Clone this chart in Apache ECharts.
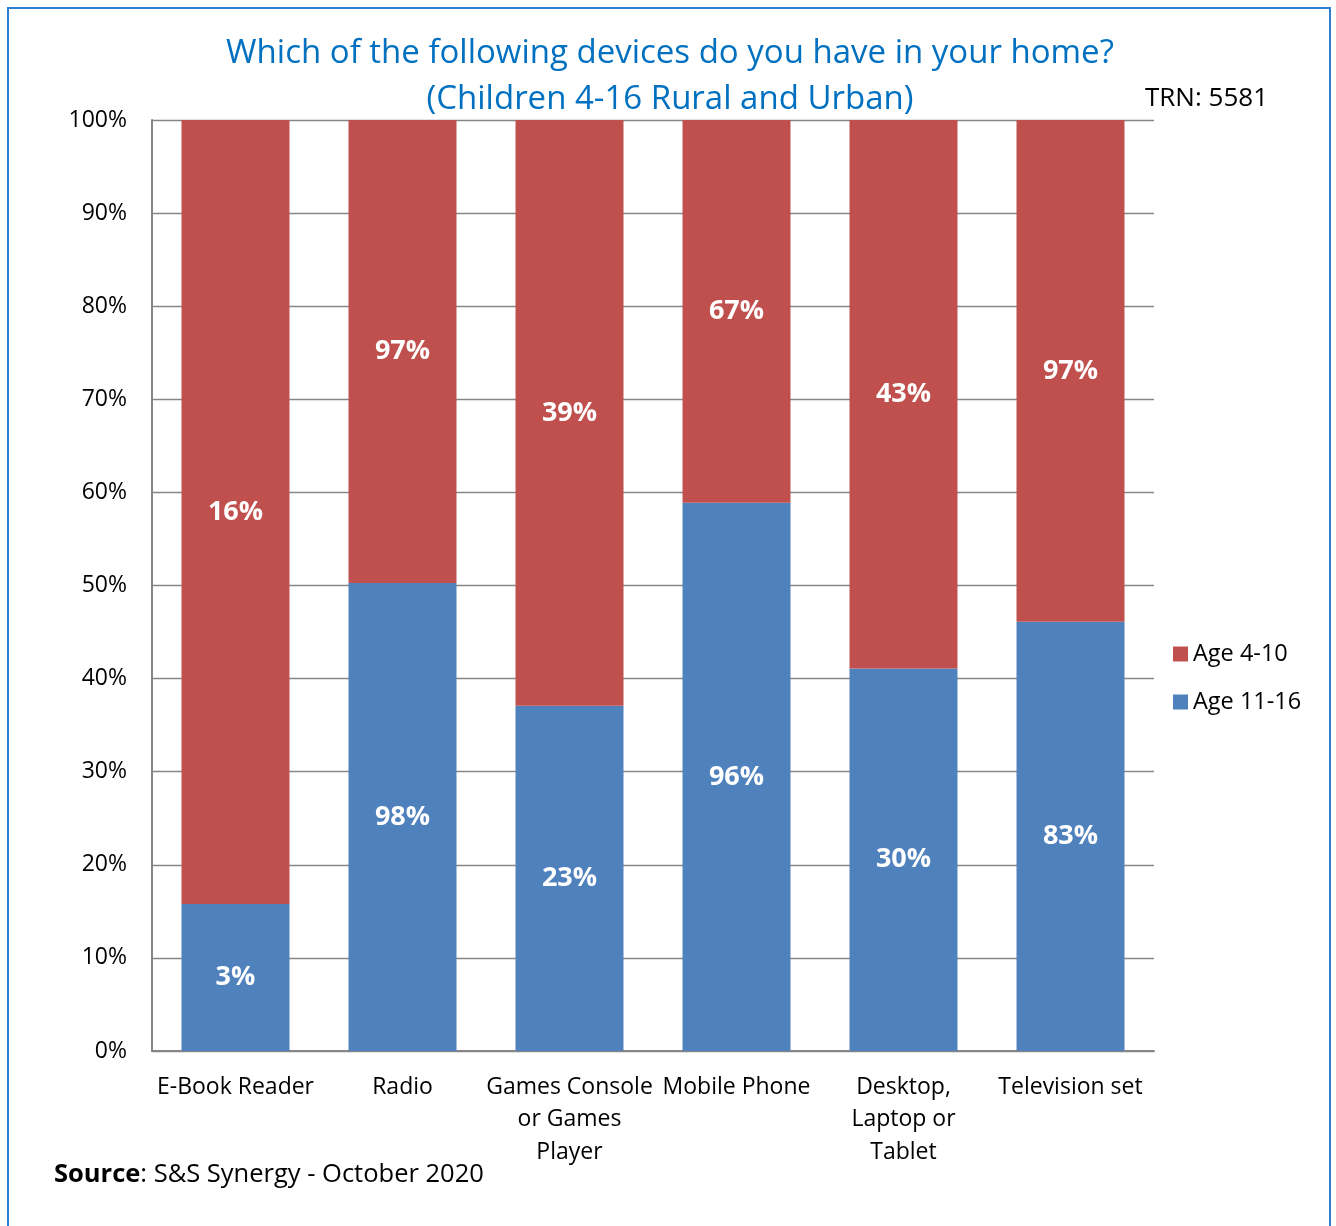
<!DOCTYPE html>
<html>
<head>
<meta charset="utf-8">
<script src="https://cdn.jsdelivr.net/npm/echarts@6/dist/echarts.min.js"></script>
<style>
  html, body { margin: 0; padding: 0; background: #fff; }
  #chart { width: 1336px; height: 1226px; }
</style>
</head>
<body>
<div id="chart"></div>
<script>
// Devices owned at home, children 4-16 (rural and urban)
const categories = ['E-Book Reader', 'Radio', 'Games Console\nor Games\nPlayer', 'Mobile Phone', 'Desktop,\nLaptop or\nTablet', 'Television set'];
const age11to16 = [3, 98, 23, 96, 30, 83];
const age4to10 = [16, 97, 39, 67, 43, 97];
const yTicks = [0, 10, 20, 30, 40, 50, 60, 70, 80, 90, 100];

// 100% stacked: each column is split by the two groups' share of the total
const totals = categories.map((_, i) => age11to16[i] + age4to10[i]);
const share = (arr) => arr.map((v, i) => ({ value: v / totals[i] * 100, raw: v }));

const FONT = '"Open Sans", "Noto Sans", sans-serif';

const chart = echarts.init(document.getElementById('chart'), null, { renderer: 'canvas' });

const labelStyle = {
  show: true,
  position: 'inside',
  color: '#ffffff',
  fontFamily: FONT,
  fontWeight: 'bold',
  fontSize: 27,
  formatter: (p) => p.data.raw + '%'
};

chart.setOption({
  backgroundColor: '#ffffff',
  animation: false,
  textStyle: { fontFamily: FONT },
  title: {
    text: 'Which of the following devices do you have in your home?\n(Children 4-16 Rural and Urban)',
    left: 665,
    top: 26,
    textAlign: 'center',
    textStyle: {
      color: '#0070C0',
      fontFamily: FONT,
      fontWeight: 'normal',
      fontSize: 33,
      lineHeight: 46
    }
  },
  legend: {
    orient: 'vertical',
    left: 1173,
    top: 642,
    padding: 0,
    itemWidth: 15,
    itemHeight: 15,
    itemGap: 24,
    icon: 'rect',
    data: ['Age 4-10', 'Age 11-16'],
    textStyle: { fontFamily: FONT, fontSize: 23.5, color: '#000000' }
  },
  grid: { left: 152, right: 182, top: 120, bottom: 175, containLabel: false },
  xAxis: {
    type: 'category',
    data: categories,
    axisLine: { lineStyle: { color: '#868686', width: 2 } },
    axisTick: { show: false },
    axisLabel: {
      interval: 0,
      margin: 20,
      color: '#000000',
      fontFamily: FONT,
      fontSize: 23,
      lineHeight: 32.5,
      verticalAlign: 'top'
    }
  },
  yAxis: {
    type: 'value',
    min: 0,
    max: 100,
    interval: 10,
    axisLine: { show: true, lineStyle: { color: '#868686', width: 2 } },
    axisTick: { show: false },
    splitLine: { lineStyle: { color: '#868686', width: 1.3 } },
    axisLabel: {
      margin: 25,
      color: '#000000',
      fontFamily: FONT,
      fontSize: 23,
      formatter: (v) => (yTicks.indexOf(v) >= 0 ? v + '%' : '')
    }
  },
  series: [
    {
      name: 'Age 11-16',
      type: 'bar',
      stack: 'all',
      barWidth: 108,
      data: share(age11to16),
      itemStyle: { color: '#4F81BD' },
      label: labelStyle
    },
    {
      name: 'Age 4-10',
      type: 'bar',
      stack: 'all',
      barWidth: 108,
      data: share(age4to10),
      itemStyle: { color: '#C0504D' },
      label: labelStyle
    }
  ],
  graphic: [
    {
      type: 'rect',
      silent: true,
      shape: { x: 8, y: 8, width: 1322, height: 1240 },
      style: { fill: 'none', stroke: '#2E7FCD', lineWidth: 2 }
    },
    {
      type: 'text',
      left: 1145,
      top: 86,
      style: { text: 'TRN: 5581', fontFamily: FONT, fontSize: 26, fill: '#000000' }
    },
    {
      type: 'text',
      left: 54,
      top: 1162,
      style: {
        text: '{b|Source}: S&S Synergy - October 2020',
        fontFamily: FONT,
        fontSize: 25.5,
        fill: '#000000',
        rich: {
          b: { fontFamily: FONT, fontSize: 25.5, fontWeight: 'bold', fill: '#000000' }
        }
      }
    }
  ]
});
</script>
</body>
</html>
